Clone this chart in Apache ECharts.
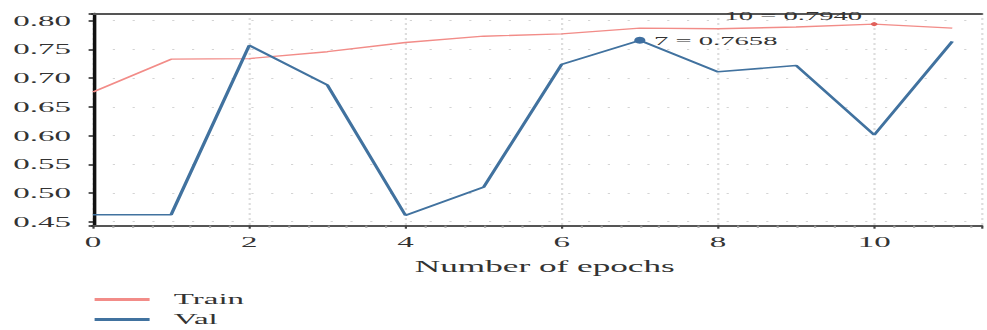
<!DOCTYPE html>
<html>
<head>
<meta charset="utf-8">
<script src="https://cdn.jsdelivr.net/npm/echarts@6/dist/echarts.min.js"></script>
<style>
  html, body { margin: 0; padding: 0; background: #fff; overflow: hidden; }
  /* the source picture is stretched sideways, so the chart is drawn narrow and widened */
  #main { width: 448.64px; height: 330px; transform: scaleX(2.2); transform-origin: 0 0; }
</style>
</head>
<body>
<div id="main"></div>
<script>
const epochs = [0, 1, 2, 3, 4, 5, 6, 7, 8, 9, 10, 11]
const trainAcc = [0.676, 0.733, 0.734, 0.746, 0.762, 0.773, 0.777, 0.787, 0.786, 0.789, 0.794, 0.787]
const valAcc = [0.462, 0.462, 0.757, 0.688, 0.461, 0.510, 0.724, 0.7658, 0.711, 0.722, 0.601, 0.764]
const seriesNames = ['Train', 'Val']
const trainMarkIdx = 10
const valMarkIdx = 7

const font = 'Liberation Serif'
const xMin = 0
const xMax = 11.37
const yMin = 0.443
const yMax = 0.8125

const myChart = echarts.init(document.getElementById('main'), null, { renderer: 'svg' })

function markLabel (idx, arr) {
  return idx + ' = ' + arr[idx].toFixed(4)
}

const option = {
  animation: false,
  textStyle: { fontFamily: font },
  grid: { left: 42.27, right: 0, top: 13.5, bottom: 104.3 },
  legend: {
    orient: 'vertical',
    left: 43,
    top: 292,
    height: 40,
    padding: 0,
    icon: 'rect',
    itemWidth: 25,
    itemHeight: 3,
    itemGap: 5,
    data: seriesNames,
    textStyle: { fontFamily: font, fontSize: 15, lineHeight: 15, color: '#333', padding: [0, 0, 0, 6] }
  },
  xAxis: [
    {
      type: 'value',
      min: xMin,
      max: xMax,
      interval: 2,
      name: 'Number of epochs',
      nameLocation: 'middle',
      nameGap: 33,
      nameTextStyle: { fontFamily: font, fontSize: 16, color: '#333', padding: [0, 0, 0, 7] },
      axisLine: { lineStyle: { color: '#555', width: 2 } },
      axisTick: { show: true, length: 3, lineStyle: { color: '#444', width: 1 } },
      minorTick: { show: true, splitNumber: 8, length: 2, lineStyle: { color: '#999' } },
      axisLabel: {
        margin: 9,
        fontFamily: font,
        fontSize: 15,
        color: '#333',
        formatter: v => (Math.abs(v - Math.round(v)) < 1e-6 ? String(Math.round(v)) : '')
      },
      splitLine: { show: true, lineStyle: { color: '#bbb', type: [1, 4], width: 1 } }
    },
    {
      type: 'value',
      position: 'top',
      min: xMin,
      max: xMax,
      axisLine: { show: true, lineStyle: { color: '#555', width: 2 } },
      axisTick: { show: false },
      axisLabel: { show: false },
      splitLine: { show: false }
    }
  ],
  yAxis: {
    type: 'value',
    min: yMin,
    max: yMax,
    minInterval: 0.05,
    maxInterval: 0.05,
    axisLine: { show: true, lineStyle: { color: '#111', width: 1.6 } },
    axisTick: { show: true, length: 2, lineStyle: { color: '#222', width: 1.5 } },
    axisLabel: {
      margin: 10,
      fontFamily: font,
      fontSize: 15,
      color: '#333',
      formatter: v => (Math.abs(v * 20 - Math.round(v * 20)) < 1e-6 ? v.toFixed(2) : '')
    },
    splitLine: { show: true, lineStyle: { color: '#d4d4d4', type: [1, 8], width: 1.2 } }
  },
  series: [
    {
      name: seriesNames[0],
      type: 'line',
      color: '#f28c88',
      showSymbol: false,
      lineStyle: { width: 1.4 },
      data: epochs.map((e, i) => [e, trainAcc[i]]),
      markPoint: {
        symbol: 'circle',
        symbolSize: [3, 4],
        itemStyle: { color: '#e0605a' },
        label: {
          show: true,
          position: 'left',
          distance: 4,
          offset: [0, -9],
          fontFamily: font,
          fontSize: 13,
          color: '#333',
          formatter: () => markLabel(trainMarkIdx, trainAcc)
        },
        data: [{ coord: [epochs[trainMarkIdx], trainAcc[trainMarkIdx]] }]
      }
    },
    {
      name: seriesNames[1],
      type: 'line',
      color: '#41729f',
      showSymbol: false,
      lineStyle: { width: 1.6 },
      data: epochs.map((e, i) => [e, valAcc[i]]),
      markPoint: {
        symbol: 'circle',
        symbolSize: [5, 7],
        itemStyle: { color: '#3f6fa0' },
        label: {
          show: true,
          position: 'right',
          distance: 4,
          fontFamily: font,
          fontSize: 13,
          color: '#333',
          formatter: () => markLabel(valMarkIdx, valAcc)
        },
        data: [{ coord: [epochs[valMarkIdx], valAcc[valMarkIdx]] }]
      }
    }
  ]
}

myChart.setOption(option)
</script>
</body>
</html>
